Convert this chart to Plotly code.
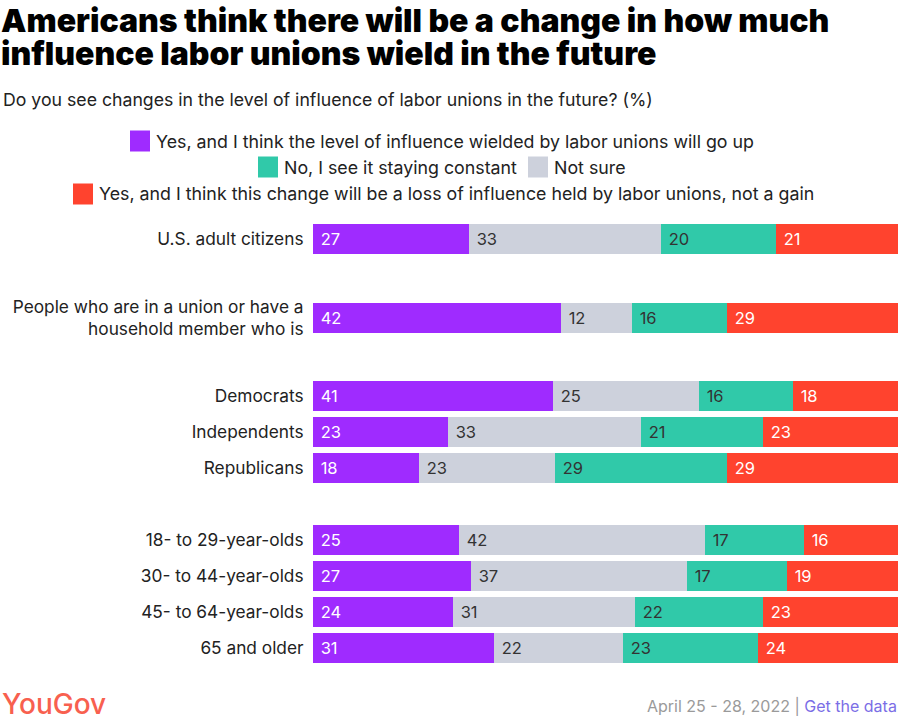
import plotly.graph_objects as go

categories = ["U.S. adult citizens",
              "People who are in a union or have a<br>household member who is",
              "Democrats", "Independents", "Republicans",
              "18- to 29-year-olds", "30- to 44-year-olds",
              "45- to 64-year-olds", "65 and older"]
go_up = [27, 42, 41, 23, 18, 25, 27, 24, 31]
not_sure = [33, 12, 25, 33, 23, 42, 37, 31, 22]
constant = [20, 16, 16, 21, 29, 17, 17, 22, 23]
loss = [21, 29, 18, 23, 29, 16, 19, 23, 24]

series_names = {
    "up": "Yes, and I think the level of influence wielded by labor unions will go up",
    "const": "No, I see it staying constant",
    "ns": "Not sure",
    "loss": "Yes, and I think this change will be a loss of influence held by labor unions, not a gain",
}

# layout row positions (in row units)
row_pos = [0, 2.19, 4.36, 5.36, 6.36, 8.36, 9.36, 10.36, 11.36]

C_UP = "#9f2bff"
C_NS = "#cdd1dc"
C_CONST = "#30c9a9"
C_LOSS = "#ff432e"

FONT = "Inter"

fig = go.Figure()
for name, vals, col, tcol in [
    (series_names["up"], go_up, C_UP, "white"),
    (series_names["ns"], not_sure, C_NS, "#333333"),
    (series_names["const"], constant, C_CONST, "#333333"),
    (series_names["loss"], loss, C_LOSS, "white"),
]:
    fig.add_trace(go.Bar(
        y=row_pos, x=vals, orientation="h", name=name,
        marker=dict(color=col, line=dict(width=0)),
        text=vals, texttemplate=" %{text}", textposition="inside",
        insidetextanchor="start", textangle=0,
        insidetextfont=dict(color=tcol, size=16.5, family=FONT),
        width=0.83, hoverinfo="skip", showlegend=False,
    ))

L, R, T, B = 313, 2, 221, 54
PW, PH = 900 - L - R, 720 - T - B

def px(x):
    return (x - L) / PW

def py(y):
    return (720 - B - y) / PH

fig.update_layout(
    width=900, height=720, barmode="stack", barnorm="percent", bargap=0,
    margin=dict(l=L, r=R, t=T, b=B),
    paper_bgcolor="white", plot_bgcolor="white",
    font=dict(family=FONT, color="#222222"),
    showlegend=False,
    xaxis=dict(range=[0, 100], visible=False, fixedrange=True),
    yaxis=dict(range=[11.86, -0.5], tickvals=row_pos, ticktext=categories,
               showgrid=False, zeroline=False, showline=False,
               ticks="outside", ticklen=5, tickcolor="rgba(0,0,0,0)",
               tickfont=dict(size=17.3, family=FONT, color="#222222")),
)

annotations = []
shapes = []

# Title (two lines)
for txt, yc in [("Americans think there will be a change in how much", 20.5),
                ("influence labor unions wield in the future", 53.5)]:
    annotations.append(dict(
        text=txt, x=px(0), y=py(yc), xref="paper", yref="paper",
        xanchor="left", yanchor="middle", align="left", showarrow=False,
        borderpad=0,
        font=dict(size=32, family=FONT, color="#000000", weight=900)))
# Subtitle
annotations.append(dict(
    text="Do you see changes in the level of influence of labor unions in the future? (%)",
    x=px(1), y=py(100), xref="paper", yref="paper", xanchor="left", yanchor="middle",
    showarrow=False, font=dict(size=17.7, family=FONT, color="#222222")))

# Legend (manual, centered rows)
legend_items = [
    (130, 141, C_UP, series_names["up"]),
    (258, 167, C_CONST, series_names["const"]),
    (528, 167, C_NS, series_names["ns"]),
    (73, 194, C_LOSS, series_names["loss"]),
]
for x0, yc, col, txt in legend_items:
    shapes.append(dict(type="rect", xref="paper", yref="paper",
                       x0=px(x0), x1=px(x0 + 20), y0=py(yc - 10.5), y1=py(yc + 10.5),
                       fillcolor=col, line=dict(width=0)))
    annotations.append(dict(text=txt, x=px(x0 + 24), y=py(yc), xref="paper", yref="paper",
                            xanchor="left", yanchor="middle", showarrow=False,
                            font=dict(size=17.8, family=FONT, color="#222222")))

# Footer
annotations.append(dict(text="YouGov", x=px(0), y=py(704), xref="paper", yref="paper",
                        xanchor="left", yanchor="middle", showarrow=False,
                        font=dict(size=28, family=FONT, color="#f8604f", weight=500)))
annotations.append(dict(
    text="April 25 - 28, 2022 | <span style='color:#7b6ee6'>Get the data</span>",
    x=px(899), y=py(706), xref="paper", yref="paper", xanchor="right", yanchor="middle",
    showarrow=False, font=dict(size=16, family=FONT, color="#9a9a9a")))

fig.update_layout(annotations=annotations, shapes=shapes)
fig.write_html("out.html", config={"displayModeBar": False},
               post_script="document.body.style.margin='0';document.body.style.overflow='hidden';")
